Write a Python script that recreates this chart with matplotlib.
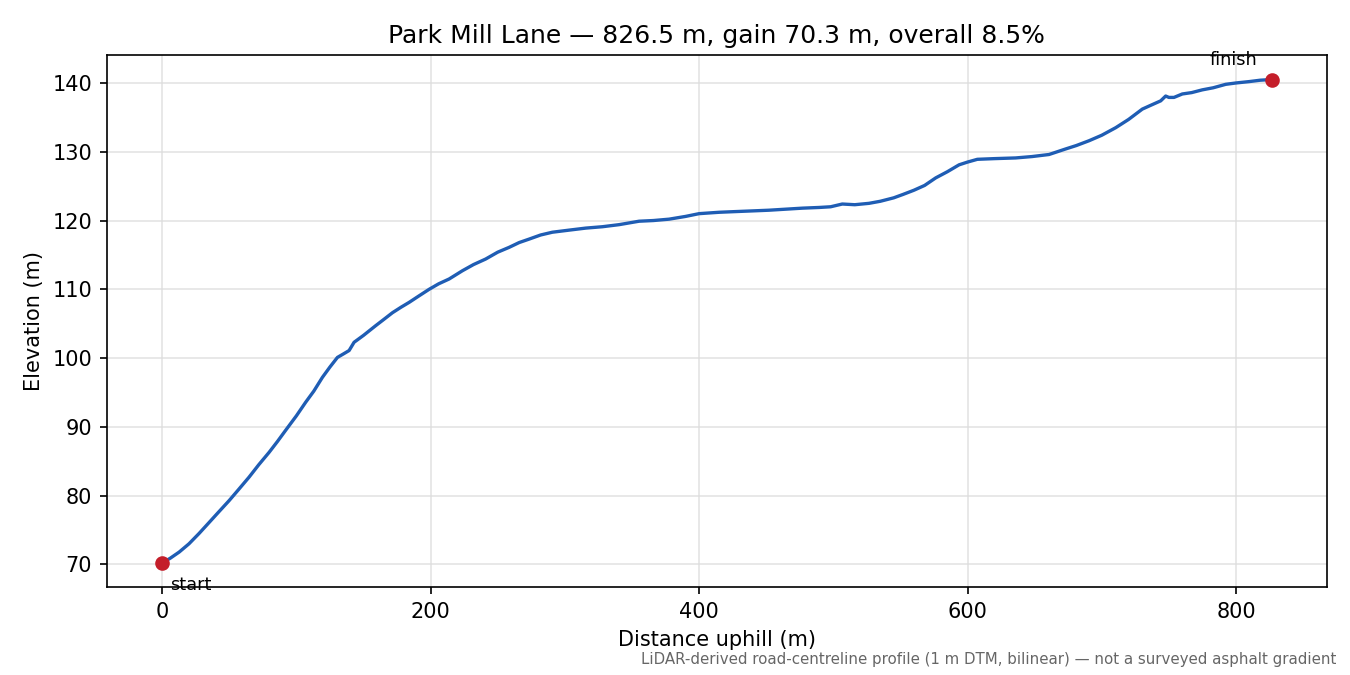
import matplotlib
matplotlib.use("Agg")
import matplotlib.pyplot as plt

# profile
distance_m = [0, 6, 12.7, 20, 27.5, 35, 42, 50, 57, 64.8, 72, 79.7, 86, 92, 100, 107,
              113, 119.4, 125, 130.6, 135, 139.3, 143, 150, 159, 165, 171.6, 178, 184,
              191, 198.9, 206, 213.8, 223.7, 232, 241, 250, 258.5, 266, 273.4, 282,
              290.7, 303, 315.6, 328, 340.4, 355.3, 366, 377.7, 390, 400, 414.9, 427,
              439.7, 452, 464.5, 477, 489.4, 498, 506.7, 516, 526.6, 535, 545, 552,
              560, 568, 576.3, 585, 593.7, 600, 607.3, 620, 635.8, 648, 660.7, 673,
              681, 690.5, 700, 710.4, 720, 730.2, 737, 743.9, 747.6, 750, 753.8, 760,
              767, 774.9, 783, 792.3, 800, 809.8, 818, 826.5]
elevation_m = [70.2, 70.9, 71.8, 73.0, 74.5, 76.1, 77.6, 79.3, 80.9, 82.7, 84.5, 86.3,
               87.9, 89.5, 91.6, 93.6, 95.2, 97.2, 98.7, 100.1, 100.6, 101.1, 102.3,
               103.3, 104.7, 105.6, 106.6, 107.4, 108.1, 109.0, 110.0, 110.8, 111.5,
               112.7, 113.6, 114.4, 115.4, 116.1, 116.8, 117.3, 117.9, 118.3, 118.6,
               118.9, 119.1, 119.4, 119.9, 120.0, 120.2, 120.6, 121.0, 121.2, 121.3,
               121.4, 121.5, 121.65, 121.8, 121.9, 122.0, 122.4, 122.3, 122.5, 122.8,
               123.3, 123.8, 124.4, 125.1, 126.2, 127.1, 128.1, 128.5, 128.9, 129.0,
               129.1, 129.3, 129.6, 130.4, 130.9, 131.6, 132.4, 133.5, 134.7, 136.2,
               136.8, 137.4, 138.1, 137.9, 137.9, 138.4, 138.6, 139.0, 139.3, 139.8,
               140.0, 140.2, 140.4, 140.5]

title = "Park Mill Lane \u2014 826.5 m, gain 70.3 m, overall 8.5%"
footnote = ("LiDAR-derived road-centreline profile (1 m DTM, bilinear) "
            "\u2014 not a surveyed asphalt gradient")

fig, ax = plt.subplots(figsize=(9, 4.5), dpi=150)
fig.subplots_adjust(left=0.079, right=0.983, top=0.918, bottom=0.13)

ax.plot(distance_m, elevation_m, color="#1f5db4", lw=1.6, zorder=2)
ax.plot([distance_m[0], distance_m[-1]], [elevation_m[0], elevation_m[-1]], "o",
        color="#c41e2a", ms=6, zorder=3)

ax.annotate("start", (distance_m[0], elevation_m[0]), xytext=(4, -6),
            textcoords="offset points", ha="left", va="top", fontsize=8.5)
ax.annotate("finish", (distance_m[-1], elevation_m[-1]), xytext=(-7, 5),
            textcoords="offset points", ha="right", va="bottom", fontsize=8.5)

ax.set_title(title, fontsize=12)
ax.set_xlabel("Distance uphill (m)")
ax.set_ylabel("Elevation (m)")
ax.grid(True, color="#dddddd", lw=0.8, alpha=0.8)
ax.set_axisbelow(True)

fig.text(0.99, 0.012, footnote, ha="right", va="bottom", fontsize=7.2, color="#666666")

fig.savefig("out.png", dpi=150)
